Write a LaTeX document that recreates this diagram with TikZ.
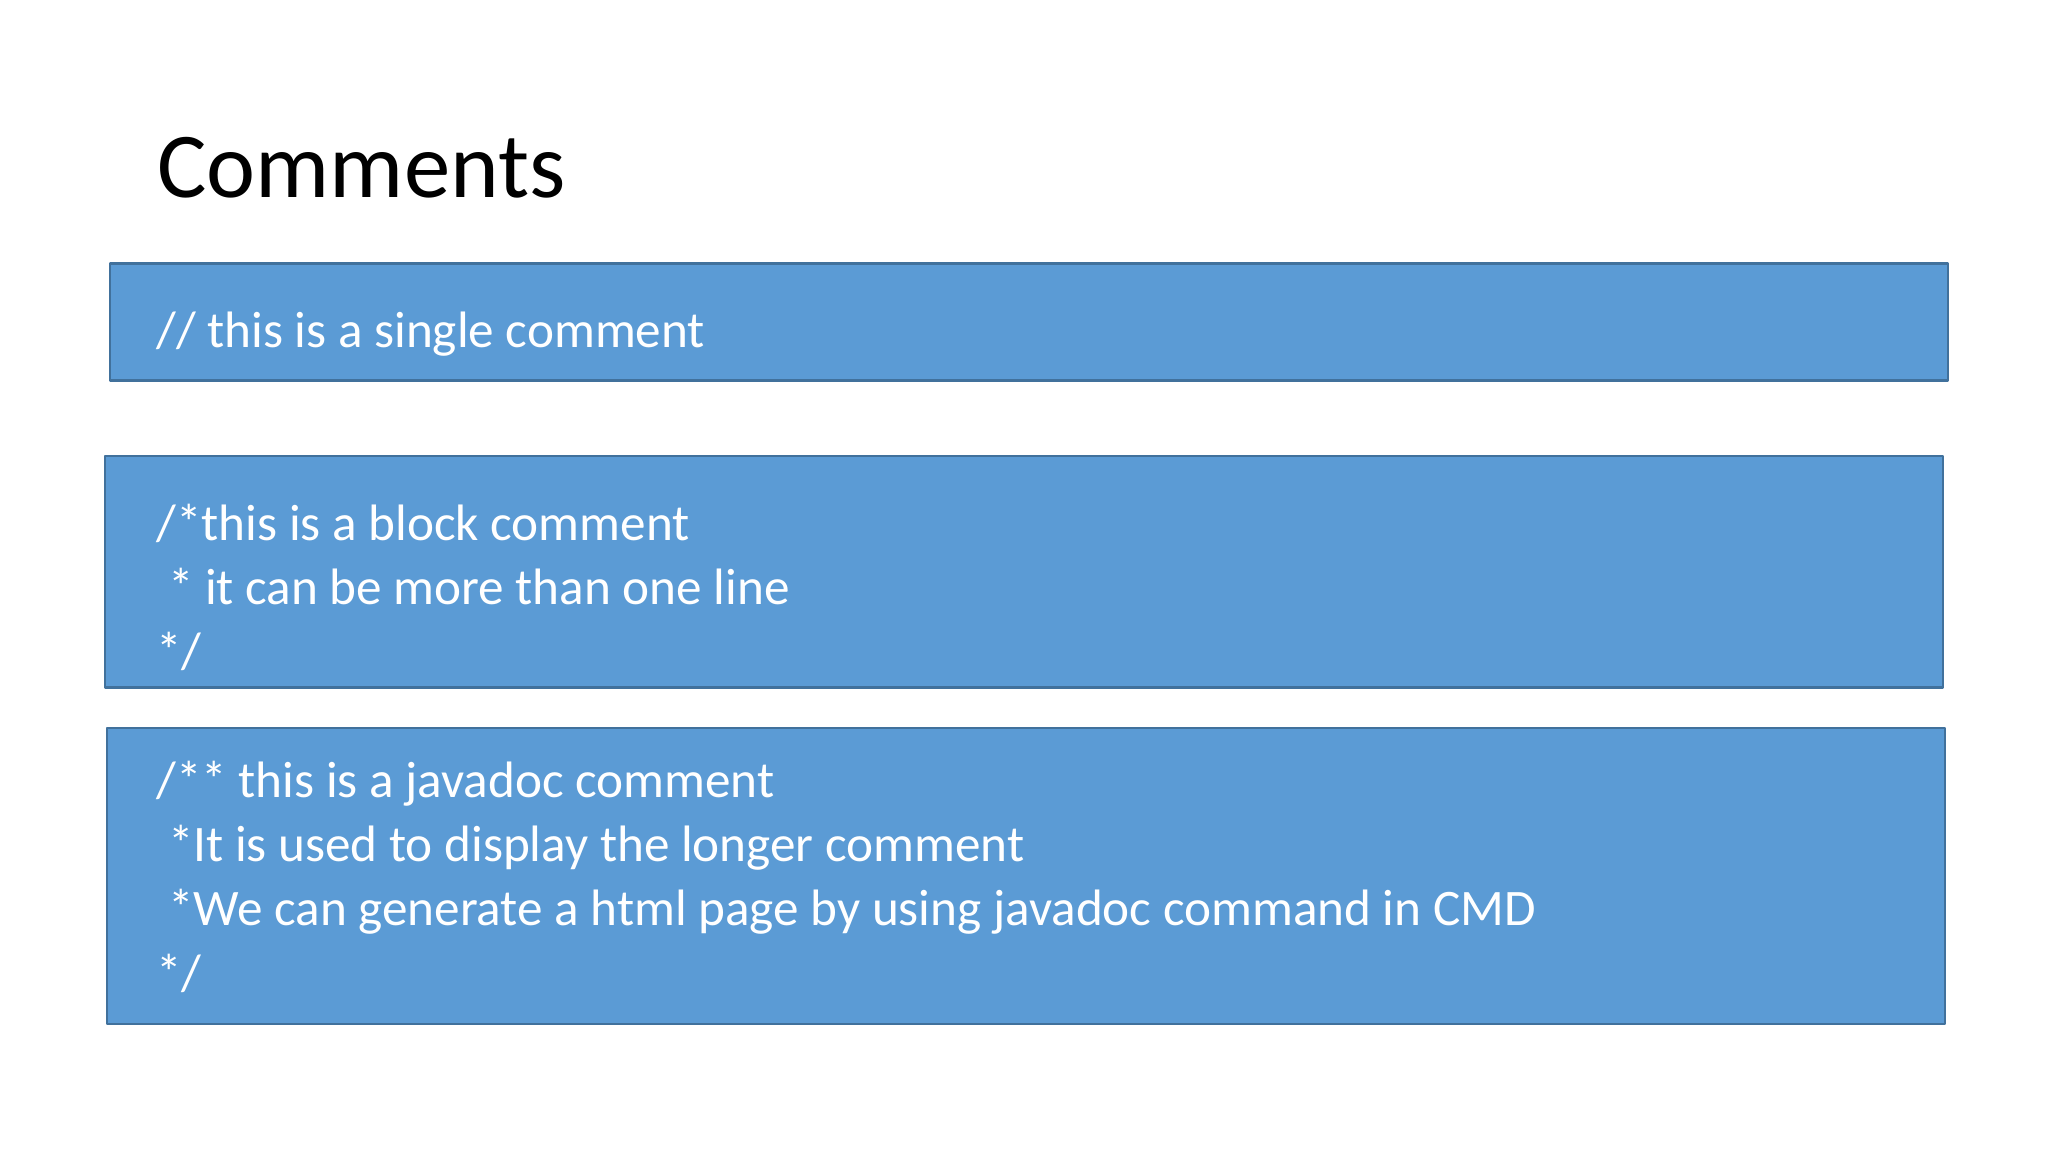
\documentclass[tikz,border=0pt]{standalone}
\usepackage{fontspec}
\setmainfont{Carlito}
\definecolor{boxblue}{HTML}{5B9BD5}
\definecolor{boxedge}{HTML}{41719C}
\begin{document}
\begin{tikzpicture}[x=0.46875pt,y=-0.46875pt,line join=round,
		commentbox/.style={fill=boxblue,draw=boxedge,line width=1pt},
		commentline/.style={anchor=base west,inner sep=0pt,text=white,font=\fontsize{24}{29}\selectfont}]
			\useasboundingbox (0,0) rectangle (2048,1152);
			\def\xtext{156}
			\def\dy{64.3}
			\node [anchor=base west, inner sep=0pt, font=\fontsize{43.5}{53}\selectfont] (title) at (157,198) {Comments};
			\draw [commentbox] (110,263.5) rectangle (1948,380.5);
			\draw [commentbox] (105,456) rectangle (1943,687.5);
			\draw [commentbox] (107,728) rectangle (1945,1024);
			\node [commentline] (single) at (\xtext,347) {// this is a single comment};
			\foreach \txt [count=\i] in {/*this is a block comment, \ * it can be more than one line, */}
				\node [commentline] (block\i) at (\xtext,{540+(\i-1)*\dy}) {\txt};
			\foreach \txt [count=\i] in {/** this is a javadoc comment, \ *It is used to display the longer comment, \ *We can generate a html page by using javadoc command in CMD, */}
				\node [commentline] (doc\i) at (\xtext,{797.3+(\i-1)*\dy}) {\txt};
		\end{tikzpicture}
\end{document}
